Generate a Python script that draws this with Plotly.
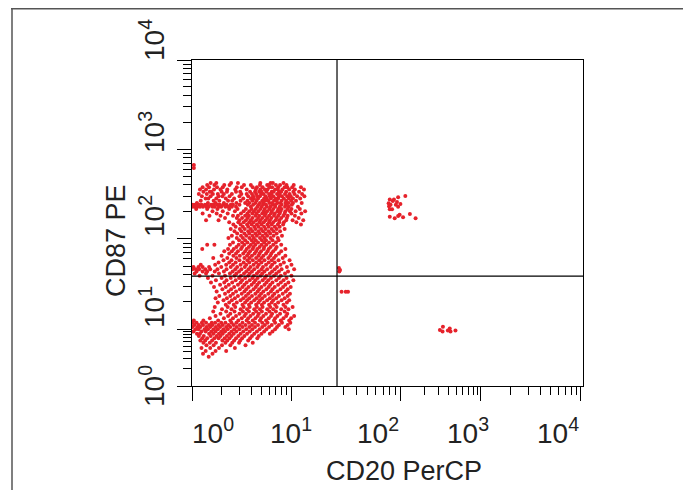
import plotly.graph_objects as go
import numpy as np

# ---------------- data (channel units 0-1023) ----------------
# main population: rows of (CD87 channel, [CD20 channels of events in that row])
main_rows = [
    (638, [49, 64, 103, 121, 180, 207, 213, 241]),
    (631, [40, 59, 85, 99, 137, 155, 179, 198, 203, 221, 232, 249, 268]),
    (624, [28, 45, 66, 81, 118, 131, 160, 171, 186, 204, 211, 227, 244, 251, 264, 287]),
    (617, [21, 37, 58, 75, 93, 114, 144, 168, 180, 192, 199, 219, 226, 238, 256, 271, 295]),
    (610, [30, 47, 51, 78, 92, 116, 127, 153, 166, 177, 183, 196, 210, 215, 229, 235, 248, 267, 282]),
    (603, [18, 39, 55, 68, 84, 105, 130, 144, 158, 169, 182, 188, 203, 209, 224, 231, 245, 257, 270, 290]),
    (596, [26, 49, 70, 80, 99, 125, 148, 161, 172, 179, 194, 205, 214, 229, 237, 251, 260, 277, 296]),
    (589, [36, 43, 64, 89, 111, 135, 155, 163, 174, 190, 197, 208, 220, 227, 242, 255, 266, 285]),
    (582, [23, 57, 72, 95, 106, 128, 146, 159, 170, 185, 193, 201, 216, 223, 236, 248, 261, 274]),
    (575, [13, 42, 62, 84, 117, 140, 151, 167, 179, 188, 204, 211, 225, 233, 246, 254, 266, 289]),
    (569, [2, 8, 18, 25, 34, 39, 50, 56, 67, 73, 82, 91, 102, 108, 125, 147, 161, 176, 187, 195, 212, 220, 236, 248, 263]),
    (563, [0, 6, 14, 21, 29, 38, 44, 54, 60, 71, 77, 88, 96, 105, 116, 155, 172, 183, 197, 206, 219, 231, 245, 255, 279]),
    (556, [11, 40, 67, 98, 120, 142, 157, 168, 180, 191, 204, 214, 227, 236, 252, 262, 284]),
    (549, [54, 81, 113, 136, 151, 163, 175, 189, 198, 210, 225, 233, 246, 258, 273, 298]),
    (542, [28, 65, 94, 129, 146, 159, 170, 185, 194, 208, 218, 231, 244, 262, 288]),
    (535, [46, 75, 108, 121, 140, 150, 167, 177, 192, 203, 216, 227, 241, 252, 271]),
    (528, [87, 118, 132, 147, 159, 174, 185, 198, 209, 223, 235, 250, 281]),
    (521, [37, 70, 125, 142, 155, 169, 180, 194, 205, 220, 230, 248, 265, 293]),
    (514, [98, 122, 136, 151, 162, 178, 189, 203, 214, 230, 242, 275]),
    (507, [109, 128, 145, 157, 171, 183, 199, 210, 226, 240, 287]),
    (500, [115, 134, 148, 164, 175, 190, 202, 218, 231]),
    (493, [102, 126, 139, 155, 167, 182, 194, 210, 223, 244]),
    (486, [112, 130, 148, 159, 175, 187, 202, 215, 232]),
    (479, [119, 138, 151, 167, 178, 194, 206, 223]),
    (472, [105, 129, 143, 159, 171, 186, 198, 215, 237]),
    (465, [96, 118, 134, 151, 163, 179, 191, 207, 226]),
    (458, [124, 140, 157, 168, 184, 195, 212, 228]),
    (451, [108, 132, 146, 162, 174, 190, 203, 221]),
    (444, [40, 59, 100, 123, 138, 155, 167, 183, 196, 214, 235]),
    (437, [117, 132, 150, 162, 178, 190, 207, 223]),
    (430, [27, 95, 110, 129, 144, 160, 172, 189, 202, 220, 246]),
    (423, [85, 105, 121, 140, 153, 169, 182, 199, 214, 235]),
    (416, [98, 116, 135, 149, 165, 178, 195, 209, 229]),
    (409, [78, 109, 126, 145, 158, 175, 188, 206, 221, 246]),
    (402, [56, 93, 117, 138, 152, 169, 183, 201, 216, 239]),
    (395, [83, 104, 125, 146, 160, 177, 191, 210, 228, 257]),
    (388, [70, 98, 115, 136, 151, 169, 183, 202, 218, 242]),
    (381, [23, 61, 90, 108, 128, 143, 162, 176, 195, 211, 233, 262]),
    (374, [4, 17, 28, 45, 77, 102, 119, 139, 154, 172, 187, 207, 224, 250]),
    (367, [1, 10, 19, 35, 48, 67, 91, 114, 130, 149, 164, 183, 198, 218, 236, 269]),
    (360, [12, 28, 40, 60, 84, 107, 124, 143, 158, 176, 191, 211, 229, 253]),
    (353, [7, 37, 71, 100, 117, 137, 152, 171, 185, 205, 222, 245]),
    (346, [20, 54, 87, 112, 129, 148, 163, 181, 196, 216, 234, 262]),
    (339, [42, 78, 102, 124, 140, 159, 173, 192, 208, 229, 249]),
    (332, [63, 91, 115, 132, 152, 167, 186, 201, 222, 241, 267]),
    (325, [50, 85, 106, 128, 144, 163, 177, 196, 212, 234, 254]),
    (318, [74, 97, 121, 138, 157, 172, 191, 206, 227, 246]),
    (311, [58, 89, 111, 133, 149, 168, 183, 202, 218, 240, 260]),
    (304, [80, 103, 126, 143, 162, 177, 196, 212, 233, 252]),
    (297, [65, 96, 116, 138, 154, 173, 188, 208, 225, 247]),
    (290, [87, 108, 131, 148, 167, 182, 201, 217, 239, 258]),
    (283, [72, 101, 121, 142, 158, 177, 192, 212, 229, 252]),
    (276, [62, 92, 113, 135, 151, 170, 185, 205, 222, 244]),
    (269, [83, 105, 128, 145, 164, 179, 198, 214, 236, 256]),
    (262, [68, 98, 118, 140, 156, 175, 190, 210, 227, 250]),
    (255, [89, 110, 133, 150, 169, 184, 203, 219, 241]),
    (248, [60, 94, 114, 136, 152, 171, 186, 206, 223, 246, 265]),
    (241, [79, 104, 128, 145, 164, 179, 198, 214, 235, 254]),
    (234, [56, 90, 112, 134, 150, 169, 184, 204, 221, 244]),
    (227, [75, 101, 125, 142, 161, 176, 195, 211, 232, 251]),
    (220, [62, 95, 116, 138, 154, 173, 188, 208, 225, 248, 269]),
    (213, [47, 84, 108, 131, 148, 167, 182, 202, 219, 241, 261]),
    (206, [5, 30, 69, 101, 122, 144, 160, 179, 195, 216, 234, 256]),
    (199, [2, 12, 26, 37, 52, 61, 77, 88, 104, 117, 133, 150, 166, 185, 199, 219, 237, 259]),
    (192, [6, 18, 29, 45, 54, 70, 81, 96, 110, 126, 141, 158, 174, 192, 210, 229, 252]),
    (185, [1, 14, 22, 38, 48, 63, 74, 90, 101, 118, 133, 151, 166, 185, 203, 224, 246]),
    (178, [9, 17, 33, 42, 57, 68, 83, 94, 111, 125, 143, 159, 178, 196, 219, 255]),
    (171, [4, 25, 36, 51, 62, 77, 87, 104, 117, 135, 152, 171, 190, 212]),
    (164, [13, 21, 45, 56, 71, 81, 98, 110, 128, 145, 164, 183, 205]),
    (157, [18, 31, 49, 65, 75, 92, 104, 122, 138, 158, 176]),
    (150, [27, 40, 59, 70, 86, 99, 116, 132, 153, 172]),
    (143, [22, 35, 53, 80, 93, 111, 127, 148]),
    (136, [30, 47, 63, 88, 106, 124, 160]),
    (128, [38, 57, 79, 101, 141]),
    (119, [25, 48, 71, 113]),
    (110, [36, 62, 90]),
    (101, [29, 54]),
    (92, [44]),
]

# small separate populations
high_x = [5, 5]
high_y = [694, 685]
ur_x = [521, 532, 543, 562, 518, 523, 537, 543, 549, 519, 521, 527, 521, 534, 543, 547, 556, 574, 589, 529, 540]
ur_y = [586, 586, 593, 597, 574, 569, 569, 563, 572, 565, 555, 555, 532, 527, 534, 538, 530, 540, 527, 581, 578]
gate_x = [387, 390, 388, 394, 405, 411]
gate_y = [371, 364, 360, 296, 296, 296]
lr_x = [653, 661, 660, 674, 679, 681, 694]
lr_y = [176, 186, 171, 174, 181, 171, 174]

# decade positions on the channel scale
x_decades = [0, 261, 548, 761, 1024]
y_decades = [0, 179, 462, 744, 1024]
decade_labels = ["10<sup>0</sup>", "10<sup>1</sup>", "10<sup>2</sup>", "10<sup>3</sup>", "10<sup>4</sup>"]
quad_x = 382
quad_y = 345

# ---------------- build ----------------
xs, ys = [], []
for yv, row in main_rows:
    for xv in row:
        xs.append(xv)
        ys.append(yv)
xs += high_x + ur_x + gate_x + lr_x
ys += high_y + ur_y + gate_y + lr_y


def minor_ticks(dec):
    out = []
    for a, b in zip(dec[:-1], dec[1:]):
        for m in range(2, 10):
            out.append(a + (b - a) * np.log10(m))
    return out


# page is drawn with an 8px body margin -> figure coords = page coords - 8
OFF = 8
W, H = 691 - OFF, 490 - OFF
PL, PR, PT, PB = 192, 583, 60, 386  # plot area in page pixels


def px(x):
    return (x - PL) / (PR - PL)


def py(y):
    return (PB - y) / (PB - PT)


RED = "#e6222b"
FONT = "Liberation Sans"
TXT = "#222222"

fig = go.Figure()
fig.add_trace(go.Scatter(x=xs, y=ys, mode="markers",
                         marker=dict(size=4, color=RED, line=dict(width=0)),
                         hoverinfo="skip", showlegend=False))

axis_common = dict(showline=True, linecolor="black", linewidth=1.2, mirror=True,
                   ticks="outside", ticklen=14, tickwidth=1.2, tickcolor="black",
                   showticklabels=False, showgrid=False, zeroline=False)
fig.update_xaxes(range=[0, 1030], tickvals=x_decades,
                 minor=dict(tickvals=minor_ticks(x_decades), ticks="outside", ticklen=8,
                            tickwidth=1.2, tickcolor="black", showgrid=False),
                 **axis_common)
fig.update_yaxes(range=[0, 1024], tickvals=y_decades,
                 minor=dict(tickvals=minor_ticks(y_decades), ticks="outside", ticklen=8,
                            tickwidth=1.2, tickcolor="black", showgrid=False),
                 **axis_common)

# quadrant gate lines
fig.add_shape(type="line", xref="x", yref="y", x0=quad_x, x1=quad_x, y0=0, y1=1024,
              line=dict(color="black", width=1.2))
fig.add_shape(type="line", xref="x", yref="y", x0=0, x1=1030, y0=quad_y, y1=quad_y,
              line=dict(color="black", width=1.2))

# outer frame (partial, as cropped in the reference)
fig.add_shape(type="line", xref="paper", yref="paper", x0=px(11), x1=px(700), y0=py(8.7), y1=py(8.7),
              line=dict(color="#555555", width=1.5))
fig.add_shape(type="line", xref="paper", yref="paper", x0=px(12), x1=px(12), y0=py(8.7), y1=py(500),
              line=dict(color="#555555", width=1.5))

# decade labels
x_label_px = [213, 291, 378, 468, 558]
y_label_py = [386, 307, 216, 132, 40]
for lab, xp in zip(decade_labels, x_label_px):
    fig.add_annotation(text=lab, xref="paper", yref="paper", x=px(xp), y=py(431),
                       xanchor="center", yanchor="middle", showarrow=False,
                       font=dict(family=FONT, size=28, color=TXT))
for lab, yp in zip(decade_labels, y_label_py):
    fig.add_annotation(text=lab, xref="paper", yref="paper", x=px(152), y=py(yp),
                       xanchor="center", yanchor="middle", showarrow=False, textangle=-90,
                       font=dict(family=FONT, size=28, color=TXT))

# axis titles
fig.add_annotation(text="CD20 PerCP", xref="paper", yref="paper", x=px(404), y=py(471),
                   xanchor="center", yanchor="middle", showarrow=False,
                   font=dict(family=FONT, size=27, color=TXT))
fig.add_annotation(text="CD87 PE", xref="paper", yref="paper", x=px(116), y=py(241),
                   xanchor="center", yanchor="middle", showarrow=False, textangle=-90,
                   font=dict(family=FONT, size=27, color=TXT))

fig.update_layout(width=W, height=H,
                  margin=dict(l=PL - OFF, r=W - (PR - OFF), t=PT - OFF, b=H - (PB - OFF)),
                  paper_bgcolor="white", plot_bgcolor="white", showlegend=False)

fig.write_html("out.html")
